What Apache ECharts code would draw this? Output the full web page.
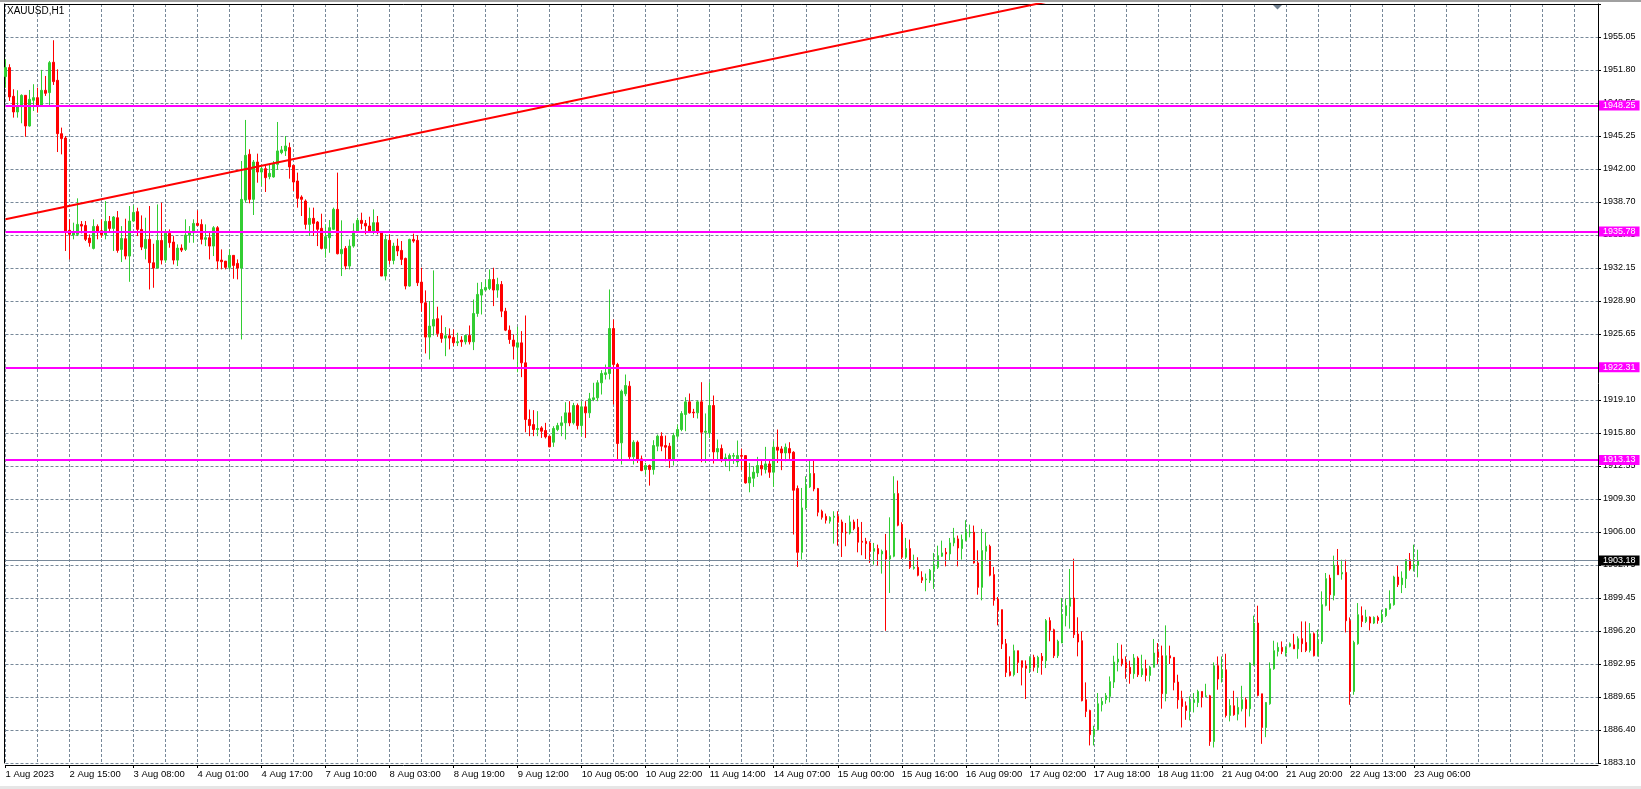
<!DOCTYPE html>
<html>
<head>
<meta charset="utf-8">
<script src="https://cdn.jsdelivr.net/npm/echarts@6/dist/echarts.min.js"></script>
<style>
html,body{margin:0;padding:0;background:#fff;}
#chart{width:1641px;height:789px;}
</style>
</head>
<body>
<div id="chart"></div>
<script>
// ---- DATA (XAUUSD, H1) ----
const symbolTitle = 'XAUUSD,H1';
const openPrices = [
1951.13,1952.02,1949.17,1947.62,1948.15,1949.27,1946.23,1948.78,1949.04,1948.28,
1949.77,1949.54,1952.55,1950.76,1945.47,1945.04,1935.89,1935.42,1935.49,1936.48,
1936.38,1935.13,1934.10,1936.28,1935.85,1935.46,1936.78,1936.08,1937.14,1934.00,
1935.06,1933.34,1936.81,1937.74,1935.98,1934.10,1935.00,1932.68,1932.15,1934.89,
1932.94,1935.59,1934.73,1932.94,1934.13,1934.00,1935.42,1935.65,1936.58,1936.48,
1935.00,1935.16,1934.33,1936.15,1932.94,1932.84,1932.22,1933.41,1932.61,1932.15,
1938.89,1943.43,1938.96,1942.66,1941.67,1942.00,1941.21,1941.18,1942.43,1943.59,
1943.76,1944.09,1942.33,1940.78,1939.19,1938.80,1936.48,1937.08,1936.71,1936.09,
1934.10,1935.16,1935.99,1937.97,1933.57,1934.10,1932.35,1934.33,1935.82,1936.88,
1936.58,1936.32,1935.82,1936.65,1935.66,1931.36,1934.90,1932.91,1934.33,1933.90,
1933.11,1930.37,1934.99,1934.90,1930.76,1928.71,1925.31,1926.40,1927.13,1925.67,
1925.21,1925.44,1925.28,1924.75,1925.01,1924.84,1925.47,1924.84,1927.65,1929.47,
1929.97,1930.13,1931.02,1929.97,1930.53,1927.88,1926.00,1925.01,1924.31,1924.74,
1922.76,1917.14,1916.64,1916.15,1916.31,1916.05,1915.49,1914.89,1916.15,1916.54,
1916.81,1917.80,1916.81,1918.53,1916.54,1918.40,1917.80,1919.12,1919.29,1920.78,
1921.60,1921.70,1926.16,1922.59,1914.83,1919.69,1920.45,1913.44,1914.89,1913.24,
1912.18,1912.58,1912.18,1914.50,1915.49,1914.56,1914.50,1913.17,1915.49,1916.15,
1917.64,1918.89,1917.87,1917.80,1918.89,1915.88,1915.82,1918.53,1913.93,1914.26,
1913.17,1913.24,1913.50,1912.94,1913.57,1913.57,1910.86,1911.32,1911.85,1912.58,
1912.18,1912.74,1911.92,1914.40,1914.23,1913.83,1914.26,1913.90,1910.30,1903.98,
1908.38,1910.46,1911.79,1910.30,1908.05,1907.55,1907.06,1907.45,1907.55,1906.99,
1905.97,1905.90,1906.99,1906.46,1905.07,1905.07,1904.91,1904.08,1904.35,1903.82,
1904.15,1903.32,1903.59,1909.80,1906.73,1903.49,1904.35,1902.40,1902.50,1901.50,
1901.27,1901.21,1902.17,1902.50,1903.59,1903.98,1903.82,1904.91,1905.31,1904.35,
1905.17,1905.90,1905.97,1902.93,1900.51,1904.08,1904.58,1901.77,1899.35,1898.30,
1894.92,1892.15,1891.85,1894.23,1893.24,1892.74,1892.48,1893.57,1892.58,1893.67,
1893.24,1897.21,1896.31,1893.73,1894.99,1897.70,1898.63,1899.45,1895.88,1895.22,
1889.37,1888.31,1885.90,1886.40,1888.87,1889.37,1889.70,1891.12,1893.11,1893.40,
1893.07,1892.58,1891.95,1893.50,1891.85,1892.45,1891.78,1892.58,1894.10,1893.73,
1889.97,1893.73,1893.57,1891.12,1889.47,1888.77,1888.31,1889.10,1889.10,1890.19,
1889.70,1889.76,1885.23,1892.74,1891.52,1892.34,1887.81,1888.77,1887.94,1888.47,
1889.37,1888.47,1892.84,1896.97,1889.96,1886.62,1888.97,1892.44,1894.16,1894.56,
1893.99,1894.66,1894.82,1894.42,1895.42,1895.05,1894.26,1895.91,1893.73,1895.15,
1898.72,1901.43,1899.71,1902.69,1901.83,1901.99,1897.20,1890.19,1894.92,1897.70,
1897.13,1897.56,1896.97,1897.53,1897.13,1897.70,1898.39,1898.79,1901.53,1900.77,
1901.37,1903.25,1902.36,1902.69
];
const highPrices = [
1952.84,1952.35,1949.87,1949.77,1949.37,1949.27,1949.80,1950.37,1950.03,1951.79,
1951.19,1952.68,1954.73,1951.85,1946.07,1945.24,1936.98,1936.65,1939.06,1936.81,
1936.81,1935.49,1936.98,1936.48,1936.98,1938.79,1937.31,1937.31,1937.80,1936.31,
1937.04,1938.30,1938.37,1938.13,1937.37,1937.14,1938.30,1934.56,1938.46,1938.63,
1935.98,1935.98,1935.32,1934.50,1934.50,1936.98,1936.31,1936.98,1937.87,1936.98,
1936.48,1935.65,1936.31,1936.31,1934.00,1932.84,1934.00,1933.41,1933.01,1942.76,
1946.83,1943.92,1942.86,1943.49,1942.27,1942.27,1942.43,1942.76,1946.63,1944.25,
1945.24,1944.58,1942.33,1941.61,1939.36,1938.96,1938.14,1938.14,1936.81,1937.54,
1936.48,1936.91,1938.14,1941.61,1936.88,1934.33,1934.99,1936.58,1937.14,1937.64,
1936.91,1937.24,1937.97,1937.31,1935.66,1935.49,1935.49,1934.66,1935.06,1934.83,
1933.18,1935.06,1935.56,1935.39,1932.18,1929.94,1928.88,1931.92,1928.32,1927.46,
1926.30,1926.17,1926.07,1925.74,1925.40,1925.57,1926.46,1929.04,1930.69,1930.76,
1931.02,1932.02,1932.18,1931.19,1930.86,1928.21,1926.46,1925.57,1926.33,1925.90,
1927.45,1918.13,1918.07,1917.97,1916.48,1916.81,1915.55,1916.48,1916.81,1917.47,
1918.86,1918.96,1918.79,1918.73,1918.96,1918.96,1919.78,1920.78,1921.04,1922.03,
1922.59,1930.03,1927.06,1922.76,1920.11,1921.60,1920.94,1915.09,1915.06,1913.57,
1912.84,1912.68,1915.09,1915.65,1915.88,1915.55,1914.83,1915.82,1916.64,1917.97,
1919.35,1919.72,1918.20,1919.06,1920.84,1917.74,1920.84,1919.52,1915.16,1914.66,
1913.77,1913.77,1913.83,1915.06,1914.26,1913.57,1912.84,1912.51,1913.44,1913.17,
1914.43,1913.11,1914.99,1916.15,1914.50,1914.76,1914.89,1914.00,1910.60,1910.36,
1911.52,1913.11,1913.11,1910.36,1908.21,1907.82,1907.55,1908.05,1908.05,1907.22,
1906.89,1907.62,1907.22,1907.29,1906.99,1905.41,1905.07,1904.91,1904.74,1904.25,
1905.80,1907.45,1911.52,1911.09,1906.96,1905.41,1905.24,1903.75,1903.49,1902.10,
1901.87,1902.33,1903.92,1904.64,1905.14,1904.41,1905.40,1906.40,1905.64,1905.74,
1907.16,1906.73,1906.63,1904.18,1906.30,1905.97,1904.74,1902.53,1899.55,1898.30,
1895.39,1893.67,1894.83,1894.23,1893.24,1893.27,1893.67,1893.83,1893.73,1894.00,
1897.37,1897.54,1896.41,1895.32,1899.45,1899.39,1902.33,1903.35,1897.54,1896.15,
1891.09,1888.38,1886.79,1890.03,1889.54,1890.03,1891.68,1893.73,1894.99,1894.83,
1893.67,1893.24,1893.90,1893.67,1893.83,1893.34,1892.74,1895.39,1894.99,1894.73,
1896.74,1894.73,1893.57,1891.85,1890.26,1889.20,1889.70,1890.03,1890.36,1890.19,
1890.95,1889.86,1893.07,1893.66,1893.66,1893.93,1889.43,1890.26,1889.53,1890.75,
1889.60,1893.07,1897.70,1898.69,1889.96,1889.14,1893.07,1895.22,1895.05,1895.15,
1894.66,1895.05,1895.91,1895.65,1897.13,1897.13,1896.97,1896.04,1896.31,1900.11,
1901.93,1901.76,1903.65,1904.31,1903.25,1903.25,1897.53,1895.22,1898.95,1898.62,
1898.29,1897.63,1897.63,1897.70,1898.29,1898.46,1900.21,1901.66,1902.66,1902.09,
1903.32,1903.91,1904.74,1904.24
];
const lowPrices = [
1950.03,1948.71,1947.06,1947.06,1946.50,1945.17,1946.17,1947.72,1947.56,1948.22,
1949.21,1948.22,1950.30,1943.65,1943.42,1933.84,1933.01,1935.00,1935.32,1935.59,
1934.83,1934.27,1934.00,1935.00,1935.16,1935.00,1935.65,1933.84,1933.67,1932.75,
1933.01,1930.79,1936.75,1935.32,1933.93,1933.01,1930.03,1930.20,1932.15,1932.51,
1932.68,1934.17,1932.51,1932.35,1933.74,1933.84,1934.66,1934.66,1936.31,1934.50,
1934.33,1933.01,1933.34,1932.02,1932.02,1932.02,1932.02,1931.09,1931.03,1925.08,
1938.63,1938.57,1937.41,1940.61,1940.28,1939.69,1940.95,1941.11,1941.87,1943.43,
1943.26,1941.01,1939.79,1938.14,1937.31,1935.99,1935.33,1935.33,1934.33,1934.00,
1933.18,1933.67,1935.92,1933.51,1931.36,1932.02,1932.02,1934.17,1935.66,1935.99,
1935.49,1935.66,1935.49,1935.49,1931.36,1930.93,1932.52,1932.52,1933.34,1932.45,
1930.04,1930.30,1934.66,1930.37,1927.82,1923.69,1923.09,1925.47,1925.34,1924.75,
1923.42,1924.09,1924.42,1924.42,1924.35,1924.58,1924.58,1924.02,1927.32,1927.55,
1929.87,1929.97,1928.38,1929.21,1927.29,1925.90,1924.64,1923.09,1921.83,1921.34,
1915.88,1915.49,1915.49,1915.49,1915.32,1915.26,1914.40,1914.43,1915.98,1915.49,
1915.16,1916.48,1916.64,1916.15,1915.49,1915.32,1917.30,1918.96,1918.96,1919.62,
1921.11,1921.11,1918.63,1913.17,1912.68,1919.45,1913.17,1912.68,1912.84,1912.02,
1911.68,1910.59,1911.68,1914.00,1914.00,1913.01,1912.35,1912.58,1915.22,1915.98,
1915.98,1917.73,1917.30,1917.24,1912.91,1912.84,1915.32,1912.78,1913.17,1912.91,
1912.45,1912.02,1912.74,1912.45,1912.12,1910.79,1909.93,1910.46,1911.45,1911.59,
1911.79,1911.36,1910.46,1912.84,1912.12,1913.01,1913.24,1905.74,1902.53,1903.26,
1908.21,1910.36,1910.03,1907.55,1907.22,1906.83,1906.83,1904.84,1904.64,1903.52,
1904.58,1905.74,1906.17,1903.98,1903.69,1903.32,1902.93,1902.76,1902.66,1901.87,
1896.20,1899.95,1903.49,1906.56,1903.32,1903.32,1902.33,1902.26,1901.60,1900.94,
1900.12,1900.94,1900.35,1902.33,1903.52,1902.59,1903.19,1904.58,1902.59,1903.26,
1905.07,1905.47,1902.86,1899.78,1899.22,1903.09,1901.60,1898.69,1896.74,1894.40,
1891.62,1891.68,1891.68,1892.02,1890.79,1889.44,1892.02,1892.18,1892.02,1891.85,
1892.51,1895.16,1893.50,1893.50,1894.99,1896.64,1896.41,1895.49,1893.67,1889.21,
1887.65,1884.84,1884.84,1886.40,1888.21,1888.97,1889.11,1890.53,1892.18,1892.68,
1891.45,1890.96,1891.45,1891.62,1891.62,1891.19,1891.19,1892.58,1892.91,1888.48,
1889.21,1892.91,1890.30,1888.48,1886.62,1887.38,1887.32,1888.11,1888.64,1888.61,
1889.63,1884.80,1884.64,1890.36,1891.08,1887.61,1887.22,1887.78,1887.32,1888.21,
1886.62,1887.71,1892.74,1889.70,1885.00,1885.66,1888.87,1892.34,1893.66,1893.89,
1893.66,1894.56,1894.39,1893.43,1894.09,1894.09,1894.06,1893.66,1893.66,1894.89,
1898.62,1898.19,1899.22,1901.76,1901.27,1896.04,1888.87,1889.86,1894.82,1896.57,
1896.97,1896.24,1896.87,1896.90,1896.97,1897.56,1898.29,1898.69,1900.54,1899.94,
1900.44,1902.16,1902.09,1901.50
];
const closePrices = [
1952.02,1949.11,1947.62,1948.15,1949.27,1946.23,1948.88,1949.04,1948.28,1949.77,
1949.47,1952.51,1950.63,1945.47,1944.98,1935.82,1935.49,1935.62,1936.48,1936.31,
1935.00,1934.66,1936.28,1935.82,1935.46,1936.78,1936.08,1937.21,1933.90,1935.09,
1933.34,1936.81,1937.67,1935.98,1934.23,1935.00,1932.68,1932.15,1934.89,1932.94,
1935.59,1934.66,1932.94,1934.13,1933.93,1935.42,1935.65,1936.58,1936.38,1935.00,
1935.16,1934.33,1936.15,1932.84,1932.78,1932.22,1933.41,1932.41,1932.15,1938.96,
1943.32,1938.96,1942.66,1941.67,1942.00,1941.11,1941.54,1942.50,1943.76,1943.86,
1944.25,1942.17,1940.68,1939.06,1938.96,1936.48,1937.08,1936.58,1935.99,1934.10,
1935.26,1936.15,1937.97,1933.57,1934.00,1932.35,1934.33,1935.82,1936.88,1936.58,
1936.32,1935.82,1936.65,1935.72,1931.36,1934.99,1932.91,1934.33,1933.84,1933.01,
1930.37,1934.99,1934.83,1930.70,1928.71,1925.31,1926.40,1927.06,1925.67,1925.18,
1925.44,1925.21,1924.75,1924.85,1924.84,1925.47,1924.84,1927.65,1929.54,1930.03,
1930.23,1931.02,1929.97,1930.53,1927.88,1926.00,1925.07,1924.41,1924.74,1922.76,
1917.14,1916.54,1916.15,1916.25,1915.98,1915.42,1914.43,1916.25,1916.54,1916.81,
1917.80,1916.81,1918.53,1916.54,1918.40,1917.80,1919.19,1919.29,1920.78,1921.70,
1921.77,1926.16,1922.59,1914.76,1919.95,1920.51,1913.44,1914.89,1913.17,1912.08,
1912.58,1912.18,1914.56,1915.49,1914.50,1914.40,1913.17,1915.55,1916.15,1917.73,
1918.89,1917.80,1917.80,1918.89,1915.88,1915.98,1918.53,1913.93,1914.26,1913.11,
1913.34,1913.57,1913.57,1913.57,1913.50,1910.86,1911.42,1911.92,1912.58,1912.25,
1912.74,1911.92,1914.40,1914.10,1913.83,1914.40,1913.83,1910.13,1903.98,1908.38,
1910.60,1911.79,1910.26,1907.95,1907.45,1907.16,1907.45,1907.55,1906.96,1905.97,
1905.90,1906.99,1906.33,1904.98,1904.98,1904.84,1904.08,1904.35,1903.82,1904.08,
1903.32,1903.65,1909.80,1906.66,1903.49,1904.35,1902.50,1902.50,1901.70,1901.21,
1901.34,1902.20,1902.66,1903.65,1903.92,1903.82,1904.91,1905.40,1904.41,1905.24,
1905.97,1905.97,1902.93,1900.51,1904.15,1904.58,1901.70,1899.22,1898.23,1894.89,
1892.08,1891.78,1894.23,1893.07,1892.58,1892.48,1893.57,1892.58,1893.57,1893.24,
1897.21,1896.25,1893.73,1895.16,1897.80,1898.69,1899.45,1895.82,1895.09,1889.27,
1888.21,1885.90,1886.46,1888.97,1889.21,1889.77,1891.16,1893.11,1893.40,1892.94,
1892.51,1891.95,1893.50,1891.85,1892.45,1891.78,1892.61,1894.00,1893.57,1889.97,
1893.73,1893.50,1891.09,1889.37,1888.70,1888.31,1889.13,1889.37,1890.19,1889.63,
1889.76,1885.23,1892.74,1891.42,1892.34,1887.81,1888.80,1887.88,1888.61,1889.37,
1888.47,1893.00,1896.97,1889.80,1886.62,1889.10,1892.44,1894.23,1894.56,1894.16,
1894.56,1894.92,1894.42,1895.42,1894.92,1894.26,1895.91,1893.73,1895.22,1898.79,
1901.37,1899.78,1902.69,1901.76,1901.99,1897.20,1890.19,1895.05,1897.80,1897.13,
1897.56,1896.97,1897.53,1897.23,1897.80,1898.39,1898.89,1901.53,1900.77,1901.43,
1903.25,1902.33,1902.76,1903.18
];
// x tick labels, one every 16 bars starting from the first bar
const xTickLabels = ['1 Aug 2023','2 Aug 15:00','3 Aug 08:00','4 Aug 01:00','4 Aug 17:00','7 Aug 10:00',
  '8 Aug 03:00','8 Aug 19:00','9 Aug 12:00','10 Aug 05:00','10 Aug 22:00','11 Aug 14:00','14 Aug 07:00',
  '15 Aug 00:00','15 Aug 16:00','16 Aug 09:00','17 Aug 02:00','17 Aug 18:00','18 Aug 11:00','21 Aug 04:00',
  '21 Aug 20:00','22 Aug 13:00','23 Aug 06:00'];
// price scale tick labels, bottom to top
const yTickLabels = ['1883.10','1886.40','1889.65','1892.95','1896.20','1899.45','1902.75','1906.00',
  '1909.30','1912.55','1915.80','1919.10','1922.35','1925.65','1928.90','1932.15','1935.45','1938.70',
  '1942.00','1945.25','1948.55','1951.80','1955.05',''];
const levelLines = [1948.25, 1935.78, 1922.31, 1913.13];
const currentPrice = 1903.18;
// trend line anchors: [bar index, price]
const trendLine = [[0, 1936.99], [270, 1959.35]];

// ---- CHART ----
const Y_MIN = 1883.10;
const Y_STEP = 3.2705;
const Y_MAX = Y_MIN + Y_STEP * (yTickLabels.length - 1);
const TOTAL_SLOTS = 399;           // bars + empty right margin (chart shift)
const LABEL_EVERY = 16, GRID_EVERY = 8;

const categories = Array.from({length: TOTAL_SLOTS}, (_, i) => String(i));
const ohlc = openPrices.map((o, i) => [o, closePrices[i], lowPrices[i], highPrices[i]]);

const FONT = 'Liberation Sans, Arial, sans-serif';
const GRID_COLOR = '#778899';
const BULL = '#32CD32', BEAR = '#FF0000', LEVEL = '#FF00FF';
const DASH = [3, 2];

const chart = echarts.init(document.getElementById('chart'), null, {renderer: 'canvas'});
const tagLabel = (bg) => ({
  show: true, position: 'end', distance: 1,
  formatter: (p) => Number(p.value).toFixed(2),
  color: '#fff', backgroundColor: bg, fontSize: 9, fontFamily: FONT,
  padding: [1, 4, 0, 4], lineHeight: 9
});

chart.setOption({
  animation: false,
  backgroundColor: '#fff',
  title: {
    text: symbolTitle, left: 7, top: 6, padding: 0,
    textStyle: {fontSize: 10, fontWeight: 'normal', color: '#000', fontFamily: FONT}
  },
  graphic: [
    {type: 'rect', left: 0, top: 0, shape: {width: 1641, height: 2}, style: {fill: '#a0a0a0'}, silent: true},
    {type: 'rect', left: 0, top: 786, shape: {width: 1641, height: 3}, style: {fill: '#e6e6e6'}, silent: true},
    {type: 'polygon', shape: {points: [[1273, 5], [1282, 5], [1277.5, 9.5]]}, style: {fill: '#708090'}, silent: true, z: 10}
  ],
  grid: {left: 5.5, top: 4, width: 1592.5, height: 759},
  xAxis: [{
    type: 'category', data: categories, boundaryGap: false, offset: 2,
    axisLine: {show: true, lineStyle: {color: '#000', width: 1}},
    axisTick: {show: true, length: 3, interval: (i) => i % LABEL_EVERY === 0 && i / LABEL_EVERY < xTickLabels.length, lineStyle: {color: '#000'}},
    axisLabel: {
      interval: (i) => i % LABEL_EVERY === 0 && i / LABEL_EVERY < xTickLabels.length,
      formatter: (v, i) => xTickLabels[Math.round(Number(v) / LABEL_EVERY)] || '',
      align: 'left', margin: 4, fontSize: 9.5, color: '#000', fontFamily: FONT
    },
    splitLine: {show: true, interval: (i) => i % GRID_EVERY === 0, lineStyle: {color: GRID_COLOR, type: DASH, width: 1}}
  }, {
    type: 'category', data: categories, boundaryGap: false, position: 'top',
    axisLine: {show: true, lineStyle: {color: '#000'}}, axisTick: {show: false}, axisLabel: {show: false}, splitLine: {show: false}
  }],
  yAxis: [{
    type: 'value', position: 'right', min: Y_MIN, max: Y_MAX, interval: Y_STEP,
    axisLine: {show: true, lineStyle: {color: '#000'}},
    axisTick: {show: true, length: 3, lineStyle: {color: '#000'}},
    axisLabel: {
      formatter: (v) => yTickLabels[Math.round((v - Y_MIN) / Y_STEP)] || '',
      margin: 5, fontSize: 9, color: '#000', fontFamily: FONT
    },
    splitLine: {show: true, lineStyle: {color: GRID_COLOR, type: DASH, width: 1}}
  }, {
    type: 'value', position: 'left', offset: 1.5, min: Y_MIN, max: Y_MAX,
    axisLine: {show: true, lineStyle: {color: '#000'}}, axisTick: {show: false}, axisLabel: {show: false}, splitLine: {show: false}
  }],
  series: [{
    type: 'candlestick', data: ohlc, barWidth: 2, clip: true, z: 2,
    itemStyle: {color: BULL, color0: BEAR, borderColor: BULL, borderColor0: BEAR, borderWidth: 1}
  }, {
    type: 'line', data: [], z: 5, silent: true,
    markLine: {
      silent: true, symbol: ['none', 'none'], animation: false,
      data: levelLines.map(v => ({yAxis: v, lineStyle: {color: LEVEL, width: 2, type: 'solid'}, label: tagLabel(LEVEL)}))
        .concat([{yAxis: currentPrice, lineStyle: {color: GRID_COLOR, width: 1, type: 'solid'}, label: tagLabel('#000')}])
    }
  }, {
    type: 'line', data: trendLine, symbol: 'none', z: 6, silent: true, clip: true,
    lineStyle: {color: '#FF0000', width: 2}
  }]
});
</script>
</body>
</html>
